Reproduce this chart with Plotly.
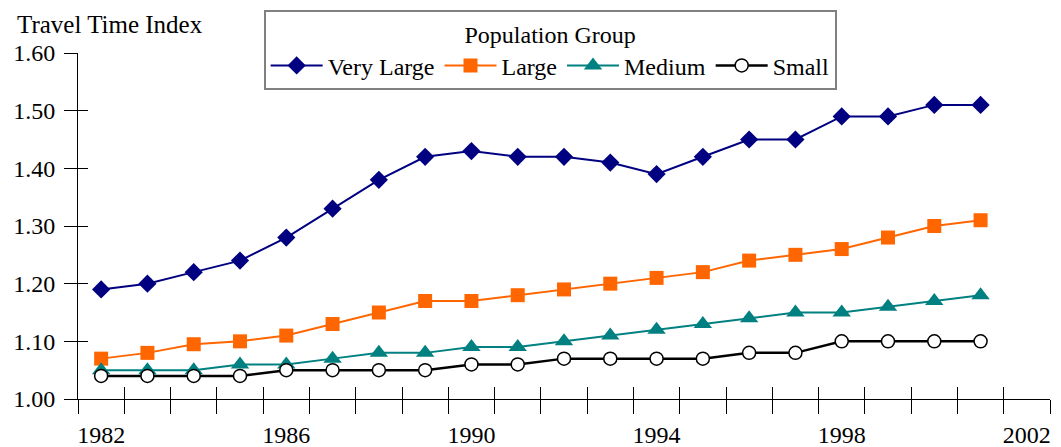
import plotly.graph_objects as go

years = list(range(1982, 2002))
very_large = [1.19, 1.20, 1.22, 1.24, 1.28, 1.33, 1.38, 1.42, 1.43, 1.42, 1.42, 1.41, 1.39, 1.42, 1.45, 1.45, 1.49, 1.49, 1.51, 1.51]
large = [1.07, 1.08, 1.095, 1.10, 1.11, 1.13, 1.15, 1.17, 1.17, 1.18, 1.19, 1.20, 1.21, 1.22, 1.24, 1.25, 1.26, 1.28, 1.30, 1.31]
medium = [1.05, 1.05, 1.05, 1.06, 1.06, 1.07, 1.08, 1.08, 1.09, 1.09, 1.10, 1.11, 1.12, 1.13, 1.14, 1.15, 1.15, 1.16, 1.17, 1.18]
small = [1.04, 1.04, 1.04, 1.04, 1.05, 1.05, 1.05, 1.05, 1.06, 1.06, 1.07, 1.07, 1.07, 1.07, 1.08, 1.08, 1.10, 1.10, 1.10, 1.10]

label_years = [1982, 1986, 1990, 1994, 1998, 2002]
y_ticks = [1.00, 1.10, 1.20, 1.30, 1.40, 1.50, 1.60]

FONT = "Liberation Serif"
FS = 24

x_min, x_max = years[0] - 0.5, label_years[-1] + 0.5
boundaries = [y - 0.5 for y in range(years[0], label_years[-1] + 2)]

fig = go.Figure()
fig.add_trace(go.Scatter(x=years, y=very_large, name="Very Large", mode="lines+markers",
                         line=dict(color="#000080", width=2),
                         marker=dict(symbol="diamond", size=14, color="#000080")))
fig.add_trace(go.Scatter(x=years, y=large, name="Large", mode="lines+markers",
                         line=dict(color="#FF6600", width=2),
                         marker=dict(symbol="square", size=14, color="#FF6600")))
fig.add_trace(go.Scatter(x=years, y=medium, name="Medium", mode="lines+markers",
                         line=dict(color="#008080", width=2),
                         marker=dict(symbol="triangle-up", size=16, color="#008080")))
fig.add_trace(go.Scatter(x=years, y=small, name="Small", mode="lines+markers",
                         line=dict(color="#000000", width=2.5),
                         marker=dict(symbol="circle", size=13, color="white",
                                     line=dict(color="black", width=1.5))))
# helper traces for the inner half of the crossing tick marks
fig.add_trace(go.Scatter(x=[], y=[], xaxis="x2", yaxis="y", showlegend=False, hoverinfo="skip"))
fig.add_trace(go.Scatter(x=[], y=[], xaxis="x", yaxis="y2", showlegend=False, hoverinfo="skip"))

fig.update_layout(
    width=1053, height=439,
    margin=dict(l=70, r=11, t=45, b=48, autoexpand=False),
    paper_bgcolor="white", plot_bgcolor="white",
    font=dict(family=FONT, size=FS, color="black"),
    showlegend=True,
    legend=dict(
        orientation="h", x=0.191, y=1.124, xanchor="left", yanchor="top",
        bgcolor="white", bordercolor="#808080", borderwidth=2,
        title=dict(text="Population Group", side="top center", font=dict(family=FONT, size=FS)),
        font=dict(family=FONT, size=FS), itemwidth=52, traceorder="normal",
    ),
    xaxis=dict(
        range=[x_min, x_max], showgrid=False, zeroline=False, automargin=False,
        showline=True, linecolor="black", linewidth=1,
        tickmode="array", tickvals=label_years, ticktext=[str(v) for v in label_years],
        ticks="outside", ticklen=14, tickcolor="rgba(0,0,0,0)",
        minor=dict(tickmode="array", tickvals=boundaries, ticks="outside", ticklen=14,
                   tickcolor="black", tickwidth=1, showgrid=False),
        tickfont=dict(family=FONT, size=FS),
    ),
    xaxis2=dict(
        range=[x_min, x_max], overlaying="x", anchor="y", side="bottom", automargin=False,
        showgrid=False, zeroline=False, showline=False, showticklabels=False,
        tickmode="array", tickvals=boundaries, ticks="inside", ticklen=12,
        tickcolor="black", tickwidth=1,
    ),
    yaxis=dict(
        range=[1.0, 1.6], showgrid=False, zeroline=False, automargin=False,
        showline=True, linecolor="black", linewidth=1,
        tickmode="array", tickvals=y_ticks, ticktext=[f"{v:.2f}" for v in y_ticks],
        ticks="outside", ticklen=13, tickcolor="black", tickwidth=1,
        ticklabelstandoff=4,
        tickfont=dict(family=FONT, size=FS),
    ),
    yaxis2=dict(
        range=[1.0, 1.6], overlaying="y", anchor="x", side="left", automargin=False,
        showgrid=False, zeroline=False, showline=False, showticklabels=False,
        tickmode="array", tickvals=y_ticks, ticks="inside", ticklen=10,
        tickcolor="black", tickwidth=1,
    ),
    annotations=[dict(text="Travel Time Index", xref="paper", yref="paper",
                      x=-0.065, y=1.128, xanchor="left", yanchor="top",
                      showarrow=False, font=dict(family=FONT, size=25))],
)

fig.write_html("out.html")
